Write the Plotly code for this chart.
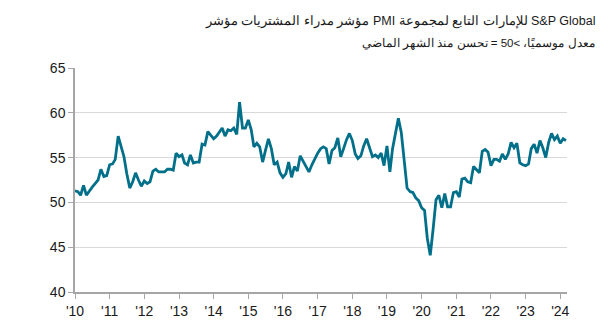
import pandas as pd
import plotly.graph_objects as go

# Monthly S&P Global UAE PMI, Jan 2010 - Mar 2024
pmi_2010 = [51.3, 51.2, 50.8, 51.9, 50.8, 51.3, 51.7, 52.1, 52.5, 53.7, 52.9, 53.0]
pmi_2011 = [54.2, 54.3, 54.8, 57.4, 56.1, 55.1, 53.2, 51.6, 52.3, 53.3, 52.5, 51.8]
pmi_2012 = [52.4, 52.1, 52.3, 53.5, 53.7, 53.4, 53.4, 53.4, 53.7, 53.7, 53.6, 55.5]
pmi_2013 = [55.1, 55.3, 54.4, 54.2, 55.3, 54.4, 54.5, 54.5, 56.5, 56.4, 57.9, 57.5]
pmi_2014 = [57.1, 57.4, 57.8, 58.3, 57.4, 58.1, 58.0, 58.3, 57.6, 61.2, 58.3, 58.3]
pmi_2015 = [59.2, 58.1, 56.2, 56.6, 56.2, 54.5, 55.8, 57.1, 56.0, 54.2, 54.5, 53.3]
pmi_2016 = [52.8, 53.2, 54.5, 52.8, 54.0, 53.5, 55.2, 54.6, 54.0, 53.4, 54.2, 54.9]
pmi_2017 = [55.5, 56.0, 56.2, 56.0, 54.3, 55.8, 56.1, 57.2, 55.1, 56.0, 57.0, 57.7]
pmi_2018 = [56.9, 55.4, 54.9, 55.2, 56.3, 57.1, 56.1, 55.1, 55.3, 55.0, 55.5, 54.1]
pmi_2019 = [56.3, 53.4, 56.0, 57.8, 59.4, 57.8, 55.1, 51.6, 51.2, 51.1, 50.5, 50.2]
pmi_2020 = [49.4, 49.1, 46.0, 44.1, 47.0, 50.3, 50.8, 49.4, 51.0, 49.5, 49.5, 51.1]
pmi_2021 = [51.2, 50.6, 52.6, 52.7, 52.3, 52.2, 54.0, 53.6, 53.3, 55.7, 55.9, 55.6]
pmi_2022 = [54.1, 54.8, 54.8, 54.6, 55.4, 54.8, 55.4, 56.7, 56.1, 56.6, 54.4, 54.2]
pmi_2023 = [54.1, 54.3, 56.0, 56.5, 55.5, 56.9, 56.1, 55.0, 56.7, 57.7, 57.0, 57.4]
pmi_2024 = [56.6, 57.1, 56.9]

pmi = (pmi_2010 + pmi_2011 + pmi_2012 + pmi_2013 + pmi_2014 + pmi_2015 + pmi_2016
       + pmi_2017 + pmi_2018 + pmi_2019 + pmi_2020 + pmi_2021 + pmi_2022 + pmi_2023 + pmi_2024)
dates = pd.date_range("2010-01-01", periods=len(pmi), freq="MS")

tick_years = list(range(2010, 2025))
tick_labels = ["'10", "'11", "'12", "'13", "'14", "'15", "'16", "'17", "'18", "'19",
               "'20", "'21", "'22", "'23", "'24"]
y_ticks = [40, 45, 50, 55, 60, 65]

title_text = "مؤشر مدراء المشتريات مؤشر PMI للإمارات التابع لمجموعة S&P Global"
subtitle_text = "معدل موسميًا، >50 = تحسن منذ الشهر الماضي"

FONT = "Liberation Sans, Arial, sans-serif"
AXIS_GREY = "#A6A6A6"

fig = go.Figure()
fig.add_trace(go.Scatter(
    x=dates, y=pmi, mode="lines",
    line=dict(color="#00708A", width=2.8),
    hoverinfo="skip", showlegend=False,
))

fig.update_layout(
    width=612, height=331,
    margin=dict(l=75, r=45, t=68, b=32),
    paper_bgcolor="white", plot_bgcolor="white",
    font=dict(family=FONT, color="#1a1a1a", size=14),
    xaxis=dict(
        range=[pd.Timestamp("2010-01-01"), pd.Timestamp("2024-03-12")],
        tickvals=[pd.Timestamp(f"{y}-01-01") for y in tick_years],
        ticktext=tick_labels,
        showgrid=False, zeroline=False,
        showline=True, linecolor=AXIS_GREY, linewidth=1.5,
        ticks="outside", ticklen=5, tickcolor=AXIS_GREY, tickwidth=1,
        tickfont=dict(size=14, color="#1a1a1a"),
    ),
    yaxis=dict(
        range=[40, 65], tickvals=y_ticks,
        showgrid=True, gridcolor="#D9D9D9", gridwidth=1,
        zeroline=False,
        showline=True, linecolor=AXIS_GREY, linewidth=1.5,
        ticks="outside", ticklen=5, tickcolor=AXIS_GREY, tickwidth=1,
        tickfont=dict(size=14, color="#1a1a1a"),
    ),
    annotations=[
        dict(text=title_text, xref="paper", yref="paper",
             x=(597 - 75) / (567 - 75), y=(299 - 20) / 231,
             xanchor="right", yanchor="middle", showarrow=False,
             font=dict(family=FONT, size=12.5, color="#1a1a1a")),
        dict(text=subtitle_text, xref="paper", yref="paper",
             x=(597 - 75) / (567 - 75), y=(299 - 43) / 231,
             xanchor="right", yanchor="middle", showarrow=False,
             font=dict(family=FONT, size=11.5, color="#1a1a1a")),
    ],
)

fig.write_html("out.html")
